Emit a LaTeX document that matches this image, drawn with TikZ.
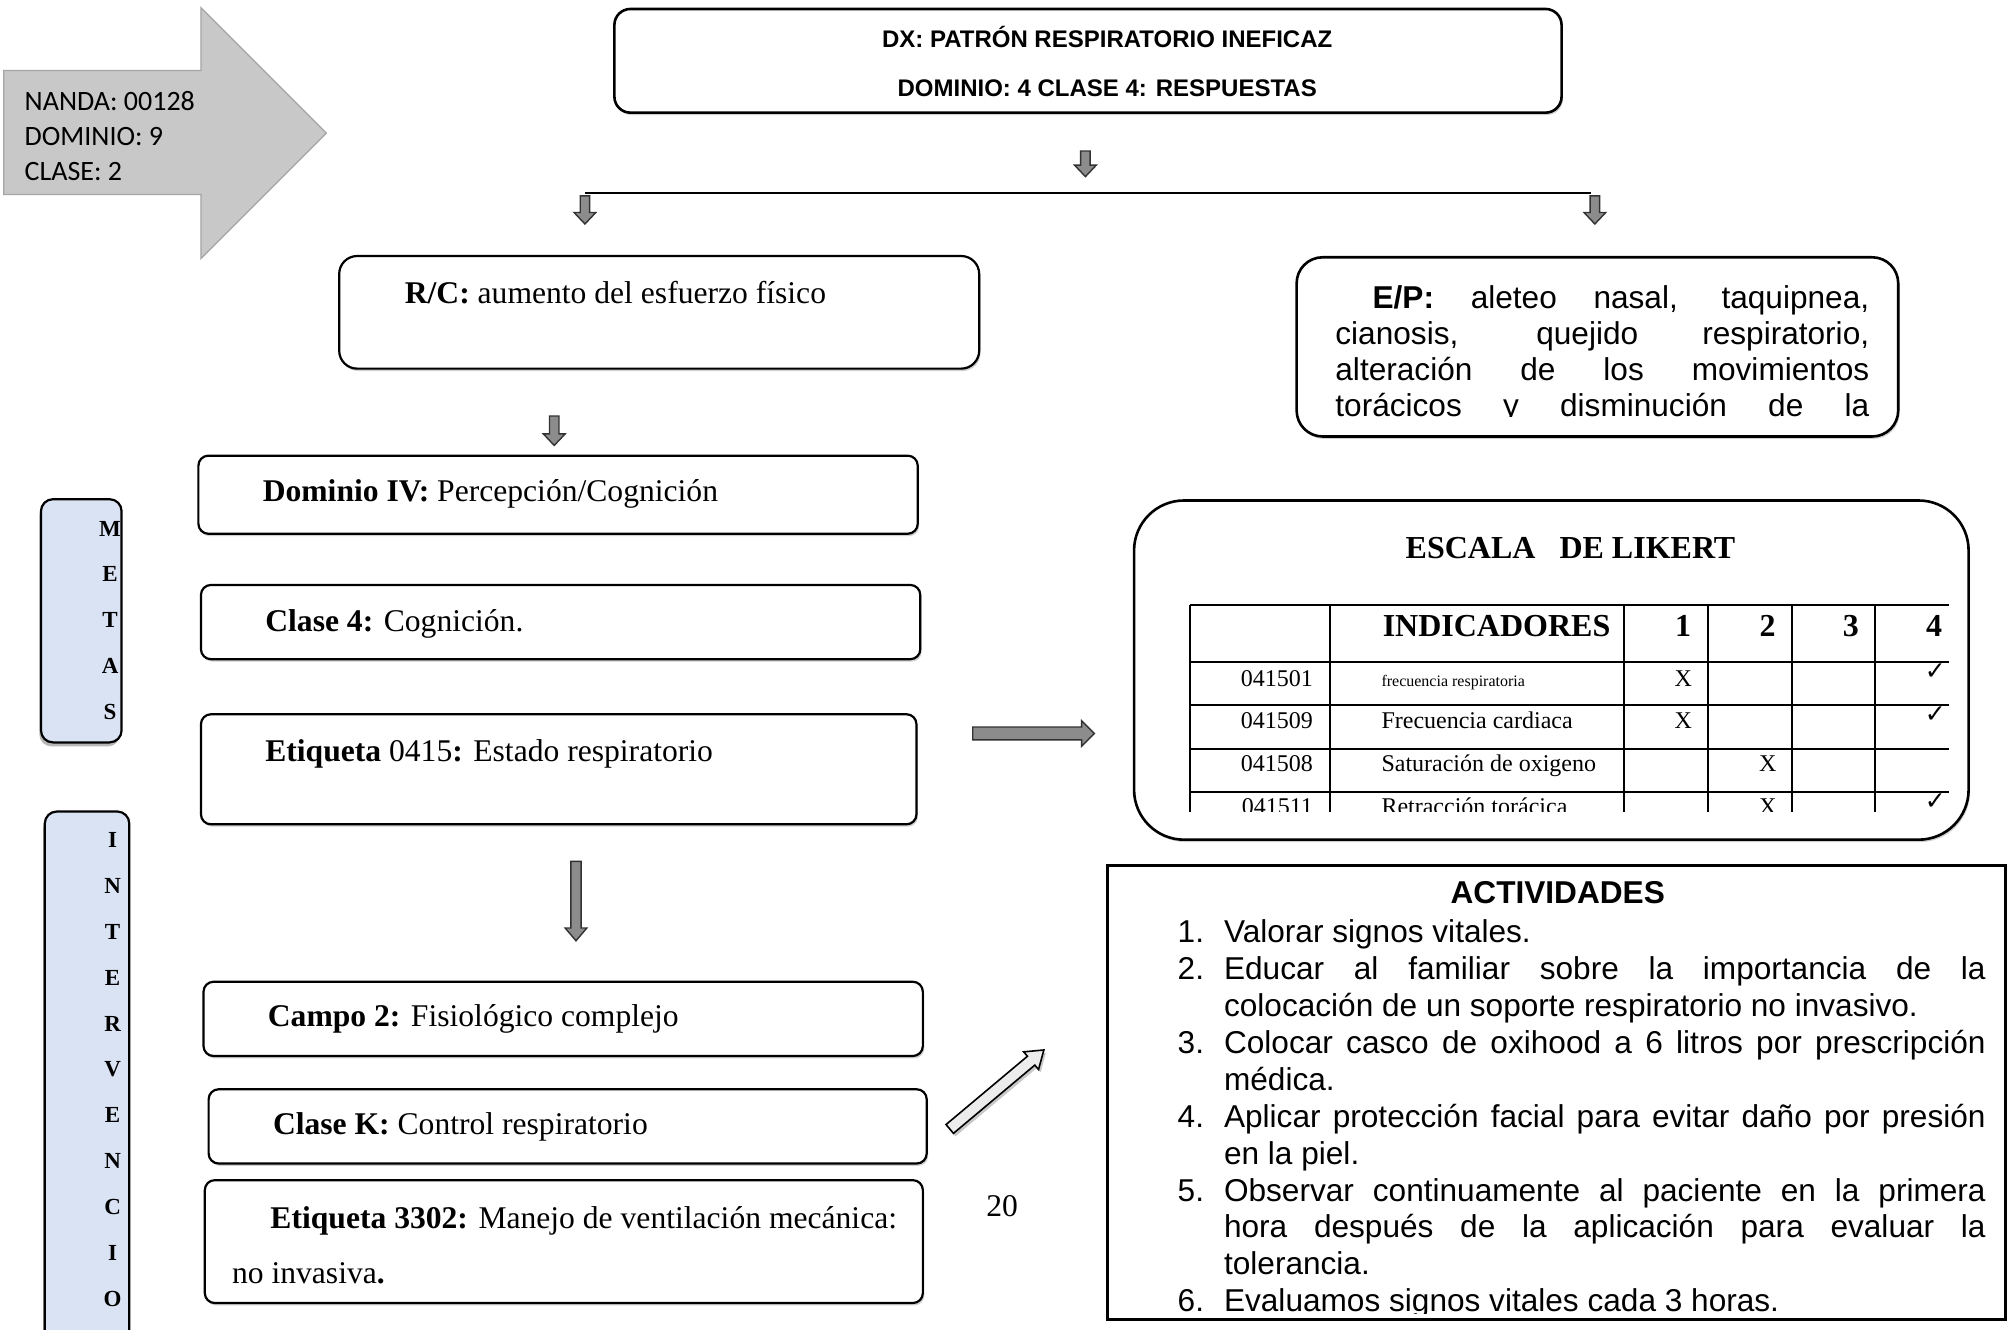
\documentclass[tikz,border=0pt]{standalone}
\usepackage{fontspec}
\setmainfont{Liberation Serif}
\newfontfamily\arialf{Liberation Sans}
\newfontfamily\calibrif{Carlito}
\newfontfamily\dejavuf{DejaVu Sans}
\usetikzlibrary{fit,shadows}
\definecolor{arrgray}{RGB}{140,140,140}
\definecolor{arrline}{RGB}{50,50,50}
\definecolor{bigarr}{RGB}{200,200,200}
\definecolor{bigarrb}{RGB}{165,165,165}
\definecolor{lblue}{RGB}{218,227,243}
\newcommand\fs[2]{\fontsize{#1}{#2}\selectfont}
\newcommand\blockdown[3]{%
  \draw[barrow] ({#1-3.7},#2) -- ({#1+3.7},#2) -- ({#1+3.7},{#3-9}) -- ({#1+8.5},{#3-9}) -- (#1,#3) -- ({#1-8.5},{#3-9}) -- ({#1-3.7},{#3-9}) -- cycle;}
\tikzset{
  barrow/.style={draw=arrline, line width=0.7pt, fill=arrgray, line join=miter},
  sbox/.style={draw=black, line width=1.1pt, inner sep=0pt, fill=white,
    drop shadow={shadow xshift=0.7pt, shadow yshift=-1.2pt, fill=gray!60, opacity=0.6}},
  vbox/.style={draw=black, line width=1.1pt, inner sep=0pt, fill=lblue, rounded corners=6pt,
    drop shadow={shadow xshift=-0.8pt, shadow yshift=-2pt, fill=gray!70, opacity=0.8}},
  txt/.style={inner sep=0pt, font=\fs{15.8}{19}},
  tline/.style={line width=1pt, black},
  vletter/.style={inner sep=0pt, font=\bfseries\fs{11.5}{13}},
}
\begin{document}
\begin{tikzpicture}[x=0.64pt,y=-0.64pt]
\path[use as bounding box, fill=white] (0,0) rectangle (1568,1039);
\clip (0,0) rectangle (1568,1039);

% big NANDA arrow
\draw[fill=bigarr, draw=bigarrb, line width=0.6pt] (3,55) -- (157,55) -- (157,6) -- (255,104) -- (157,202) -- (157,152) -- (3,152) -- cycle;
\node[anchor=base west, inner sep=0pt, align=left, font=\calibrif\fs{14}{17.6}] (nanda) at (19,141) {NANDA: 00128\\DOMINIO: 9\\CLASE: 2};

% DX box
\node[sbox, rounded corners=8pt, line width=1.3pt, fit={(480,7) (1220,88)}] (dx) {};
\node[anchor=base, inner sep=0pt, font=\arialf\bfseries\fs{12}{14}] (dx1) at (865,37) {DX: PATRÓN RESPIRATORIO INEFICAZ};
\node[anchor=base, inner sep=0pt, font=\arialf\bfseries\fs{12}{14}] (dx2) at (865,75) {DOMINIO: 4 CLASE 4: RESPUESTAS};

% branch arrows
\blockdown{848}{118}{138}
\coordinate (hl) at (457,151);
\coordinate (hr) at (1243,151);
\draw[line width=1pt] (hl) -- (hr);
\blockdown{457}{153}{175}
\blockdown{1246}{153}{175}

% R/C box
\node[sbox, rounded corners=9pt, fit={(265,200) (765,288)}] (rc) {};
\node[txt, anchor=base west] (rct) at (316,237) {\textbf{R/C:} aumento del esfuerzo físico};

% E/P box
\node[sbox, rounded corners=13pt, line width=1.3pt, fit={(1013,201) (1483,341)}] (ep) {};
\begin{scope}
\clip (1013,201) rectangle (1483,325);
\node[anchor=north west, inner sep=0pt, align=left, font=\arialf\fs{15.8}{18.1}] (ept) at (1043,222.5) {%
\hspace*{18.6pt}\makebox[248.3pt][s]{\textbf{E/P:} aleteo nasal, taquipnea,}\\
\makebox[266.9pt][s]{cianosis, quejido respiratorio,}\\
\makebox[266.9pt][s]{alteración de los movimientos}\\
\makebox[266.9pt][s]{torácicos y disminución de la}};
\end{scope}

% left column boxes
\blockdown{433}{325}{348}
\node[sbox, rounded corners=5pt, fit={(155,356) (717,417)}] (dom) {};
\node[txt, anchor=base west] (domt) at (205,392) {\textbf{Dominio IV:} Percepción/Cognición};
\node[sbox, rounded corners=5pt, fit={(157,457) (719,515)}] (cl4) {};
\node[txt, anchor=base west] (cl4t) at (207,493) {\textbf{Clase 4:} Cognición.};
\node[sbox, rounded corners=5pt, fit={(157,558) (716,644)}] (et1) {};
\node[txt, anchor=base west] (et1t) at (207,595) {\textbf{Etiqueta} 0415\textbf{:} Estado respiratorio};

\draw[barrow] (446,673) -- (454,673) -- (454,725) -- (458.5,725) -- (450,735) -- (441.5,725) -- (446,725) -- cycle;

\node[sbox, rounded corners=5pt, fit={(159,767) (721,825)}] (campo) {};
\node[txt, anchor=base west] (campot) at (209,802) {\textbf{Campo 2:} Fisiológico complejo};
\node[sbox, rounded corners=5pt, fit={(163,851) (724,909)}] (clk) {};
\node[txt, anchor=base west] (clkt) at (213,886) {\textbf{Clase K:} Control respiratorio};
\node[sbox, rounded corners=5pt, fit={(160,922) (721,1018)}] (et2) {};
\node[txt, anchor=base west] (et2a) at (211,960) {\textbf{Etiqueta 3302:} Manejo de ventilación mecánica:};
\node[txt, anchor=base west] (et2b) at (181,1003) {no invasiva\textbf{.}};

% side labels
\node[vbox, fit={(32,390) (95,580)}] (metas) {};
\foreach \l [count=\i from 0] in {M,E,T,A,S}
  \node[vletter] (m\i) at (86,{413+35.75*\i}) {\l};
\node[vbox, fit={(35,634) (101,1080)}] (interv) {};
\foreach \l [count=\i from 0] in {I,N,T,E,R,V,E,N,C,I,O}
  \node[vletter] (n\i) at (88,{656+35.9*\i}) {\l};

% horizontal arrow
\draw[barrow] (760,568) -- (845,568) -- (845,563) -- (855,573) -- (845,583) -- (845,578) -- (760,578) -- cycle;

% diagonal arrow
\begin{scope}[shift={(742,882)}, rotate=40]
\draw[fill=gray!15, draw=black, line width=0.8pt, drop shadow={shadow xshift=1pt, shadow yshift=-1.5pt, fill=gray!60, opacity=0.7}]
  (0,-4.5) -- (83,-4.5) -- (83,-9) -- (96,0) -- (83,9) -- (83,4.5) -- (0,4.5) -- cycle;
\end{scope}

\node[txt, anchor=base] (pg) at (783,950) {20};

% Likert box
\node[sbox, rounded corners=25pt, line width=1.3pt, fit={(886,391) (1538,656)}] (lik) {};
\node[anchor=base, inner sep=0pt, font=\bfseries\fs{16}{19}] (likt) at (1227,436) {ESCALA\hspace{0.75em}DE LIKERT};
\begin{scope}
\clip (900,460) rectangle (1530,634);
\foreach \y in {473,517,551,585,619} \draw[tline] (930,\y) -- (1523,\y);
\foreach \x in {930,1039,1269,1334,1400,1465} \draw[tline] (\x,473) -- (\x,640);
\node[anchor=west, inner sep=0pt, font=\bfseries\fs{16}{19}] (hind) at (1080,489) {INDICADORES};
\node[inner sep=0pt, font=\bfseries\fs{16}{19}] (h1) at (1315,489) {1};
\node[inner sep=0pt, font=\bfseries\fs{16}{19}] (h2) at (1381,489) {2};
\node[inner sep=0pt, font=\bfseries\fs{16}{19}] (h3) at (1446,489) {3};
\node[inner sep=0pt, font=\bfseries\fs{16}{19}] (h4) at (1511,489) {4};
\foreach \c/\t/\y [count=\i] in {041501/{\fs{8}{9}frecuencia respiratoria}/536, 041509/{Frecuencia cardiaca}/569, 041508/{Saturación de oxigeno}/603, 041511/{Retracción torácica}/636}{
  \node[anchor=base east, inner sep=0pt, font=\fs{12}{14}] (code\i) at (1026,\y) {\c};
  \node[anchor=base west, inner sep=0pt, font=\fs{12}{14}] (ind\i) at (1079,\y) {\t};
}
\node[anchor=base, inner sep=0pt, font=\fs{12}{14}] (x1) at (1315,536) {X};
\node[anchor=base, inner sep=0pt, font=\fs{12}{14}] (x2) at (1315,569) {X};
\node[anchor=base, inner sep=0pt, font=\fs{12}{14}] (x3) at (1381,603) {X};
\node[anchor=base, inner sep=0pt, font=\fs{12}{14}] (x4) at (1381,636) {X};
\node[inner sep=0pt, font=\dejavuf\fs{12.5}{14}] (c1) at (1512,525) {✓};
\node[inner sep=0pt, font=\dejavuf\fs{12.5}{14}] (c2) at (1512,558) {✓};
\node[inner sep=0pt, font=\dejavuf\fs{12.5}{14}] (c4) at (1512,626) {✓};
\end{scope}

% Actividades
\node[draw=black, line width=1.6pt, inner sep=0pt, fit={(865,676) (1567,1031)}] (act) {};
\node[anchor=base, inner sep=0pt, font=\arialf\bfseries\fs{15.8}{18}] (actt) at (1217,706) {ACTIVIDADES};
\begin{scope}
\clip (865,676) rectangle (1567,1026);
\node[anchor=north west, inner sep=0pt, align=left, font=\arialf\fs{15.8}{18.43}] (actl) at (956,718.5) {%
\llap{1.\hspace{10pt}}Valorar signos vitales.\\
\llap{2.\hspace{10pt}}\makebox[380.8pt][s]{Educar al familiar sobre la importancia de la}\\
colocación de un soporte respiratorio no invasivo.\\
\llap{3.\hspace{10pt}}\makebox[380.8pt][s]{Colocar casco de oxihood a 6 litros por prescripción}\\
médica.\\
\llap{4.\hspace{10pt}}\makebox[380.8pt][s]{Aplicar protección facial para evitar daño por presión}\\
en la piel.\\
\llap{5.\hspace{10pt}}\makebox[380.8pt][s]{Observar continuamente al paciente en la primera}\\
\makebox[380.8pt][s]{hora después de la aplicación para evaluar la}\\
tolerancia.\\
\llap{6.\hspace{10pt}}Evaluamos signos vitales cada 3 horas.};
\end{scope}
\end{tikzpicture}
\end{document}
